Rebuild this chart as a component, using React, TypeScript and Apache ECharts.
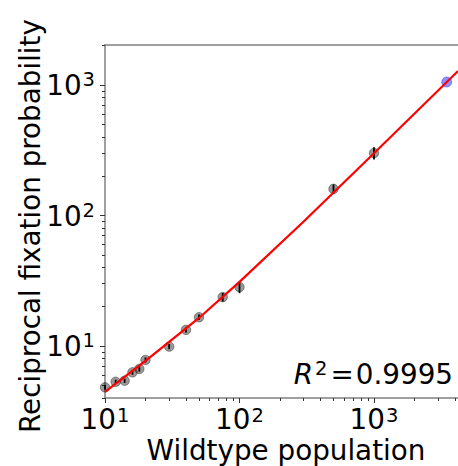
import React, { useEffect, useRef } from "react";
import * as echarts from "echarts";

// Measured data (Wildtype population N vs reciprocal fixation probability)
const popN = [10, 12, 14, 16, 18, 20, 30, 40, 50, 75, 100, 500, 1000];
const invFix = [4.82, 5.32, 5.42, 6.28, 6.67, 7.82, 9.9, 13.3, 16.6, 23.7, 28.3, 160, 301];
const invFixErr = [0.2, 0.2, 0.2, 0.25, 0.3, 0.35, 0.45, 0.6, 0.8, 1.8, 2.9, 13, 32];

// Highlighted point (blue)
const highlightN = [3470];
const highlightY = [1054];

// Fitted curve
const fitN = [10, 20, 50, 100, 300, 1000, 4217];
const fitY = [4.45, 7.7, 16.4, 31, 90, 300, 1280];

// Tick labels (exponents of 10)
const majorExpX = [1, 2, 3];
const majorExpY = [1, 2, 3];

const r2Text = "0.9995";

const FONT = "DejaVu Sans";
const L = (v: number) => Math.log10(v);

function minorTicks(lo: number, hi: number): number[] {
  const out: number[] = [];
  for (let e = 0; e <= 4; e++) {
    for (let k = 2; k <= 9; k++) {
      const v = L(k * Math.pow(10, e));
      if (v > lo + 1e-6 && v < hi - 1e-6) out.push(v);
    }
  }
  return out;
}

export default function App() {
  const ref = useRef<HTMLDivElement>(null);
  useEffect(() => {
    if (!ref.current) return;
    const chart = echarts.init(ref.current, undefined, { renderer: "svg" });
    const xMin = 1;
    const xMax = 3.6245;
    const yMin = 0.6015;
    const yMax = 3.3065;
    const spine = { color: "#808080", width: 1.5 };
    const tickStyle = { color: "#333", width: 1 };
    const makeRich = (lh: number) => ({
      b: { fontFamily: FONT, fontSize: 27.8, color: "#000", lineHeight: lh, verticalAlign: "bottom" },
      s: { fontFamily: FONT, fontSize: 19.5, color: "#000", lineHeight: lh, verticalAlign: "top", padding: [0, 0, 0, 1] },
    });
    const fmt = (v: number) => `{b|10}{s|${Math.round(v)}}`;

    const option: any = {
      animation: false,
      grid: { left: 105, top: 45, right: 0, bottom: 68, containLabel: false },
      xAxis: [
        {
          type: "value", min: xMin, max: xMax, position: "bottom",
          axisLine: { show: true, lineStyle: spine },
          axisTick: { show: true, customValues: majorExpX, length: 5, lineStyle: tickStyle },
          axisLabel: { customValues: majorExpX, formatter: fmt, rich: makeRich(28), margin: 7 },
          splitLine: { show: false },
        },
        {
          type: "value", min: xMin, max: xMax, position: "bottom",
          axisLine: { show: false },
          axisTick: { show: true, customValues: minorTicks(xMin, xMax), length: 3, lineStyle: tickStyle },
          axisLabel: { show: false },
          splitLine: { show: false },
        },
        {
          type: "value", min: xMin, max: xMax, position: "top",
          axisLine: { show: true, lineStyle: spine },
          axisTick: { show: false },
          axisLabel: { show: false },
          splitLine: { show: false },
        },
      ],
      yAxis: [
        {
          type: "value", min: yMin, max: yMax, position: "left",
          axisLine: { show: true, lineStyle: spine },
          axisTick: { show: true, customValues: majorExpY, length: 5, lineStyle: tickStyle },
          axisLabel: { customValues: majorExpY, formatter: fmt, rich: makeRich(30), margin: 10 },
          splitLine: { show: false },
        },
        {
          type: "value", min: yMin, max: yMax, position: "left",
          axisLine: { show: false },
          axisTick: { show: true, customValues: minorTicks(yMin, yMax), length: 3, lineStyle: tickStyle },
          axisLabel: { show: false },
          splitLine: { show: false },
        },
      ],
      series: [
        {
          type: "scatter",
          xAxisIndex: 0, yAxisIndex: 0,
          symbolSize: 9.5,
          itemStyle: { color: "rgba(0,0,0,0.5)", borderColor: "rgba(0,0,0,0.45)", borderWidth: 1 },
          data: popN.map((n, i) => [L(n), L(invFix[i])]),
          z: 2,
        },
        {
          type: "custom",
          xAxisIndex: 0, yAxisIndex: 0,
          data: popN.map((n, i) => [L(n), L(invFix[i] - invFixErr[i]), L(invFix[i] + invFixErr[i])]),
          renderItem: (params: any, api: any) => {
            const p1 = api.coord([api.value(0), api.value(1)]);
            const p2 = api.coord([api.value(0), api.value(2)]);
            return {
              type: "line",
              shape: { x1: p1[0], y1: p1[1], x2: p2[0], y2: p2[1] },
              style: { stroke: "#000", lineWidth: 1.8 },
            };
          },
          z: 3,
        },
        {
          type: "scatter",
          xAxisIndex: 0, yAxisIndex: 0,
          symbolSize: 10,
          itemStyle: { color: "rgba(0,0,255,0.55)", borderColor: "rgba(0,0,255,0.45)", borderWidth: 1 },
          data: highlightN.map((n, i) => [L(n), L(highlightY[i])]),
          z: 2,
        },
        {
          type: "line",
          xAxisIndex: 0, yAxisIndex: 0,
          showSymbol: false,
          symbol: "none",
          lineStyle: { color: "#ff0000", width: 2.2 },
          data: fitN.map((n, i) => [L(n), L(fitY[i])]),
          z: 4,
        },
      ],
      graphic: [
        {
          type: "text",
          x: 30, y: 226, rotation: Math.PI / 2,
          style: {
            text: "Reciprocal fixation probability",
            fontFamily: FONT, fontSize: 27.8, fill: "#000",
            align: "center", verticalAlign: "middle",
          },
        },
        {
          type: "text",
          x: 286, y: 450,
          style: {
            text: "Wildtype population",
            fontFamily: FONT, fontSize: 27.8, lineHeight: 24, fill: "#000",
            align: "center", verticalAlign: "middle",
          },
        },
        {
          type: "text",
          x: 453, y: 373,
          style: {
            text: `{i|R}{s|2}{e|=}{n|${r2Text}}`,
            align: "right", verticalAlign: "middle",
            rich: {
              i: { fontFamily: FONT, fontSize: 27.8, fontStyle: "italic", fill: "#000", lineHeight: 30, verticalAlign: "bottom" },
              s: { fontFamily: FONT, fontSize: 19.5, fill: "#000", lineHeight: 30, verticalAlign: "top", padding: [0, 0, 0, 2] },
              e: { fontFamily: FONT, fontSize: 27.8, fill: "#000", lineHeight: 30, verticalAlign: "bottom", padding: [0, 2, 0, 3] },
              n: { fontFamily: FONT, fontSize: 27.8, fill: "#000", lineHeight: 30, verticalAlign: "bottom" },
            },
          },
        },
      ],
    };
    chart.setOption(option);
    return () => chart.dispose();
  }, []);
  return (
    <div
      ref={ref}
      style={{ position: "absolute", left: 0, top: 0, width: 458, height: 466 }}
    />
  );
}
